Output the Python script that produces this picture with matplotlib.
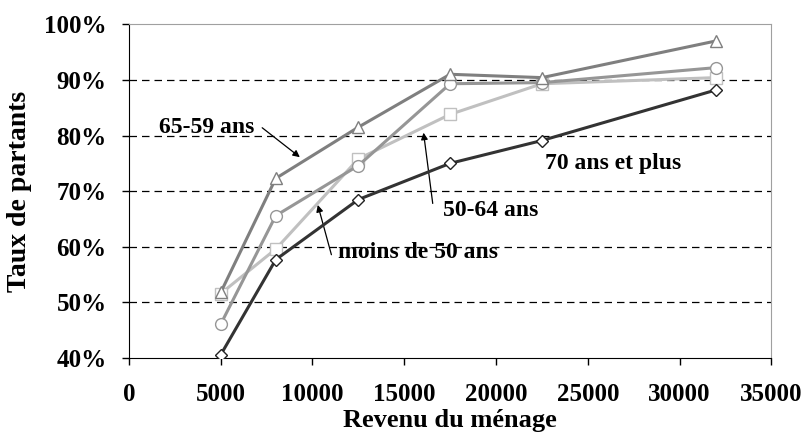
import matplotlib
matplotlib.use("Agg")
import matplotlib.pyplot as plt

plt.rcParams['font.family'] = ['Liberation Serif', 'DejaVu Serif']
plt.rcParams['font.weight'] = 'bold'
plt.rcParams['axes.labelweight'] = 'bold'

revenu = [5000, 8000, 12500, 17500, 22500, 32000]
moins_50 = [51.6, 59.6, 75.8, 83.8, 89.3, 90.4]
ans_50_64 = [46.1, 65.6, 74.6, 89.3, 89.5, 92.2]
ans_65_59 = [51.8, 72.3, 81.5, 91.0, 90.4, 97.0]
ans_70_plus = [40.6, 57.7, 68.5, 75.0, 79.1, 88.2]

yticks = [40, 50, 60, 70, 80, 90, 100]
xticks = [0, 5000, 10000, 15000, 20000, 25000, 30000, 35000]

fig = plt.figure(figsize=(8.06, 4.32), dpi=100)
ax = fig.add_axes([0.160, 0.171, 0.797, 0.773])

# dashed horizontal grid
for y in yticks[1:-1]:
    ax.axhline(y, color='black', lw=0.9, dashes=(6, 4), zorder=1)

ax.plot(revenu, moins_50, color='#c0c0c0', lw=2.2, marker='s', ms=8,
        mfc='white', mec='#c0c0c0', zorder=3)
ax.plot(revenu, ans_50_64, color='#969696', lw=2.2, marker='o', ms=8.5,
        mfc='white', mec='#969696', zorder=4)
ax.plot(revenu, ans_65_59, color='#7f7f7f', lw=2.2, marker='^', ms=9,
        mfc='white', mec='#7f7f7f', zorder=5)
ax.plot(revenu, ans_70_plus, color='#333333', lw=2.2, marker='D', ms=6.5,
        mfc='white', mec='#222222', zorder=6)

ax.set_xlim(0, 35000)
ax.set_ylim(40, 100)
ax.set_xticks(xticks)
ax.set_xticklabels([str(x) for x in xticks])
ax.set_yticks(yticks)
ax.set_yticklabels([f"{y}%" for y in yticks])
ax.tick_params(axis='both', direction='out', length=5, width=1, labelsize=18)
ax.tick_params(axis='x', pad=13)
ax.tick_params(axis='y', pad=11)

ax.spines['top'].set_color('#a0a0a0')
ax.spines['right'].set_color('#a0a0a0')
ax.spines['left'].set_color('black')
ax.spines['bottom'].set_color('black')

ax.set_xlabel("Revenu du ménage", fontsize=19, labelpad=2)
ax.set_ylabel("Taux de partants", fontsize=20, labelpad=9)

# annotations
ax.text(4250, 81.5, "65-59 ans", fontsize=17, ha='center', va='center')
ax.annotate('', xy=(9430, 75.8), xytext=(7140, 81.7),
            arrowprops=dict(arrowstyle='-|>', color='black', lw=0.9))

ax.text(26400, 75.0, "70 ans et plus", fontsize=17, ha='center', va='center')

ax.text(19700, 66.6, "50-64 ans", fontsize=17, ha='center', va='center')
ax.annotate('', xy=(16030, 81.0), xytext=(16570, 67.3),
            arrowprops=dict(arrowstyle='-|>', color='black', lw=0.9))

ax.text(15750, 58.9, "moins de 50 ans", fontsize=17, ha='center', va='center')
ax.annotate('', xy=(10250, 68.0), xytext=(11070, 58.1),
            arrowprops=dict(arrowstyle='-|>', color='black', lw=0.9))

fig.savefig("out.png", dpi=100)
